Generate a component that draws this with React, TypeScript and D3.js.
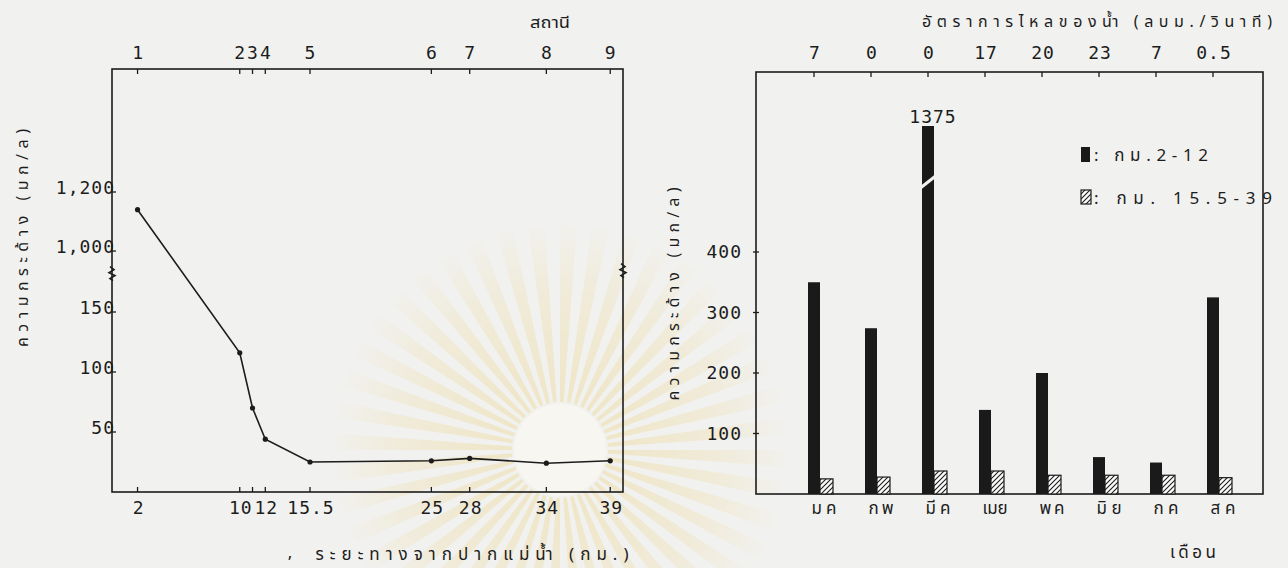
import React from "react";
import * as d3 from "d3";

// Hardness along the river (left panel)
const stationKm = [2, 10, 11, 12, 15.5, 25, 28, 34, 39];
const stationNo = ["1", "2", "3", "4", "5", "6", "7", "8", "9"];
const hardness = [1140, 116, 70, 44, 25, 26, 28, 24, 26];
const distanceLabels = ["2", "10", "", "12", "15.5", "25", "28", "34", "39"];
const hardnessTicks = [50, 100, 150, 1000, 1200];
const hardnessTickLabels = ["50", "100", "150", "1,000", "1,200"];

// Monthly hardness by reach (right panel)
const months = ["มค", "กพ", "มีค", "เมย", "พค", "มิย", "กค", "สค"];
const flowRate = ["7", "0", "0", "17", "20", "23", "7", "0.5"];
const upperReach = [350, 274, 1375, 139, 200, 61, 52, 325];
const lowerReach = [25, 28, 38, 38, 31, 31, 31, 27];
const monthlyTicks = [100, 200, 300, 400];

const W = 1288;
const H = 568;
const INK = "#1c1c1c";
const PAPER = "#f1f1ef";
const NUM_FONT = "'DejaVu Sans Mono', 'Liberation Mono', monospace";
const THAI_FONT = "'TlwgTypist', 'Tlwg Typist', 'Tlwg Typo', 'Noto Sans Thai', 'Loma', 'Garuda', 'DejaVu Sans', sans-serif";

// left panel scales (broken y axis)
const lx = d3.scaleLinear().domain([0, 40]).range([112, 623]);
const ly = d3.scaleLinear().domain([0, 182, 929, 1620]).range([492, 273.6, 272, 68]);
const LEFT = { x0: 112, x1: 623, y0: 69, y1: 492 };

// right panel scales (broken y axis)
const rx = d3.scalePoint<string>().domain(months).range([814, 1213]);
const ry = d3.scaleLinear().domain([0, 520, 1375]).range([494, 179.4, 126]);
const RIGHT = { x0: 756, x1: 1263, y0: 72, y1: 494 };
const BREAK_VALUE = 520;

const numText = { fontFamily: NUM_FONT, fontSize: 18, fill: INK, letterSpacing: 1 } as const;
const thaiText = { fontFamily: THAI_FONT, fontSize: 17, fill: INK } as const;

// faint emblem printed behind the left panel
function Sunburst() {
  const cx = 560;
  const cy = 450;
  const n = 44;
  const arc = d3.arc();
  return (
    <g transform={`translate(${cx},${cy})`}>
      <defs>
        <radialGradient id="rayFade" gradientUnits="userSpaceOnUse" cx={0} cy={0} r={225}>
          <stop offset="0.2" stopColor="#efe3bd" stopOpacity={0.8} />
          <stop offset="0.7" stopColor="#efe3bd" stopOpacity={0.45} />
          <stop offset="1" stopColor="#efe3bd" stopOpacity={0.05} />
        </radialGradient>
      </defs>
      {d3.range(n).map((i) => {
        const a0 = (i / n) * 2 * Math.PI;
        const d = arc({ innerRadius: 48, outerRadius: 225, startAngle: a0, endAngle: a0 + (Math.PI / n) * 1.05 } as any);
        return <path key={i} d={d || ""} fill="url(#rayFade)" />;
      })}
      <circle cx={0} cy={0} r={46} fill="#f7f6f1" />
    </g>
  );
}

function BreakMark({ x, y }: { x: number; y: number }) {
  const d = `M${x - 2},${y - 7} L${x + 2},${y - 4} L${x - 3},${y - 1} L${x + 3},${y + 2} L${x - 2},${y + 5} L${x + 1},${y + 7}`;
  return <path d={d} fill="none" stroke={INK} strokeWidth={1.6} />;
}

function LeftPanel() {
  const line = d3
    .line<number>()
    .x((_, i) => lx(stationKm[i]))
    .y((v) => ly(v));
  const breakY = ly(182);
  return (
    <g>
      <rect x={LEFT.x0} y={LEFT.y0} width={LEFT.x1 - LEFT.x0} height={LEFT.y1 - LEFT.y0} fill="none" stroke={INK} strokeWidth={1.6} />
      {/* station axis on top */}
      <text x={550} y={28} textAnchor="middle" {...thaiText} fontSize={16} textLength={40} lengthAdjust="spacingAndGlyphs">สถานี</text>
      {stationKm.map((km, i) => (
        <g key={"st" + i}>
          <line x1={lx(km)} x2={lx(km)} y1={LEFT.y0} y2={LEFT.y0 + 5} stroke={INK} strokeWidth={1.3} />
          <text x={lx(km)} y={59} textAnchor="middle" {...numText} letterSpacing={0}>{stationNo[i]}</text>
        </g>
      ))}
      {/* distance axis on bottom */}
      {stationKm.map((km, i) => (
        <g key={"km" + i}>
          <line x1={lx(km)} x2={lx(km)} y1={LEFT.y1} y2={LEFT.y1 - 5} stroke={INK} strokeWidth={1.3} />
          <text x={lx(km) + 1} y={514} textAnchor="middle" {...numText}>{distanceLabels[i]}</text>
        </g>
      ))}
      {/* hardness axis */}
      {hardnessTicks.map((v, i) => (
        <g key={"hy" + i}>
          <line x1={LEFT.x0} x2={LEFT.x0 + 4} y1={ly(v)} y2={ly(v)} stroke={INK} strokeWidth={1.3} />
          <text x={115} y={ly(v) + 2} textAnchor="end" {...numText}>{hardnessTickLabels[i]}</text>
        </g>
      ))}
      <BreakMark x={LEFT.x0} y={breakY} />
      <BreakMark x={LEFT.x1} y={breakY - 3} />
      <path d={line(hardness) || ""} fill="none" stroke={INK} strokeWidth={1.6} />
      {hardness.map((v, i) => (
        <circle key={"pt" + i} cx={lx(stationKm[i])} cy={ly(v)} r={2.6} fill={INK} />
      ))}
      <text transform={`translate(28,238) rotate(-90)`} textAnchor="middle" {...thaiText} fontSize={16} textLength={218} lengthAdjust="spacing">ความกระด้าง (มก/ล)</text>
      <text x={290} y={558} textAnchor="middle" {...thaiText}>,</text>
      <text x={472} y={560} textAnchor="middle" {...thaiText} textLength={313} lengthAdjust="spacing">ระยะทางจากปากแม่น้ำ (กม.)</text>
    </g>
  );
}

function RightPanel() {
  const breakY = ry(BREAK_VALUE);
  return (
    <g>
      <defs>
        <pattern id="hatch" patternUnits="userSpaceOnUse" width={5} height={5}>
          <rect width={5} height={5} fill="#fbfbf9" />
          <path d="M-1,1 L1,-1 M0,5 L5,0 M4,6 L6,4" stroke={INK} strokeWidth={1.1} />
        </pattern>
      </defs>
      <rect x={RIGHT.x0} y={RIGHT.y0} width={RIGHT.x1 - RIGHT.x0} height={RIGHT.y1 - RIGHT.y0} fill="none" stroke={INK} strokeWidth={1.6} />
      <text x={1097} y={27} textAnchor="middle" {...thaiText} fontSize={16} textLength={350} lengthAdjust="spacing">อัตราการไหลของน้ำ (ลบม./วินาที)</text>
      {months.map((m, i) => (
        <g key={"fl" + i}>
          <line x1={rx(m)!} x2={rx(m)!} y1={RIGHT.y0} y2={RIGHT.y0 + 5} stroke={INK} strokeWidth={1.3} />
          <text x={rx(m)! + 1} y={59} textAnchor="middle" {...numText}>{flowRate[i]}</text>
        </g>
      ))}
      {monthlyTicks.map((v) => (
        <g key={"ry" + v}>
          <line x1={RIGHT.x0 - 3} x2={RIGHT.x0 + 3} y1={ry(v)} y2={ry(v)} stroke={INK} strokeWidth={1.3} />
          <text x={742} y={ry(v) + 6} textAnchor="end" {...numText}>{v}</text>
        </g>
      ))}
      {months.map((m, i) => {
        const c = rx(m)!;
        const top = ry(upperReach[i]);
        return (
          <g key={"bar" + i}>
            <rect x={c - 6} y={top} width={12} height={RIGHT.y1 - top} fill="#1a1a1a" />
            <rect x={c + 6} y={ry(lowerReach[i])} width={13} height={RIGHT.y1 - ry(lowerReach[i])} fill="url(#hatch)" stroke={INK} strokeWidth={1.2} />
            {upperReach[i] > BREAK_VALUE && (
              <>
                <path d={`M${c - 7},${breakY + 6} L${c + 7},${breakY - 5} L${c + 7},${breakY - 1} L${c - 7},${breakY + 10} Z`} fill={PAPER} />
                <text x={c + 5} y={123} textAnchor="middle" {...numText}>{upperReach[i]}</text>
              </>
            )}
            <text x={c + 10} y={514} textAnchor="middle" {...thaiText} textLength={25} lengthAdjust="spacing">{m}</text>
          </g>
        );
      })}
      {/* legend */}
      <rect x={1081} y={147} width={9} height={15} fill="#1a1a1a" />
      <text x={1094} y={161} {...thaiText} textLength={114} lengthAdjust="spacing">: กม.2-12</text>
      <rect x={1081} y={190} width={10} height={14} fill="url(#hatch)" stroke={INK} strokeWidth={1.2} />
      <text x={1094} y={204} {...thaiText} textLength={178} lengthAdjust="spacing">: กม. 15.5-39</text>
      <text transform={`translate(679,294) rotate(-90)`} textAnchor="middle" {...thaiText} fontSize={16} textLength={213} lengthAdjust="spacing">ความกระด้าง (มก/ล)</text>
      <text x={1193} y={558} textAnchor="middle" {...thaiText} textLength={46} lengthAdjust="spacing">เดือน</text>
    </g>
  );
}

export default function App() {
  return (
    <svg width={W} height={H} viewBox={`0 0 ${W} ${H}`} style={{ display: "block", position: "absolute", left: 0, top: 0 }}>
      <rect width={W} height={H} fill={PAPER} />
      <Sunburst />
      <LeftPanel />
      <RightPanel />
    </svg>
  );
}
